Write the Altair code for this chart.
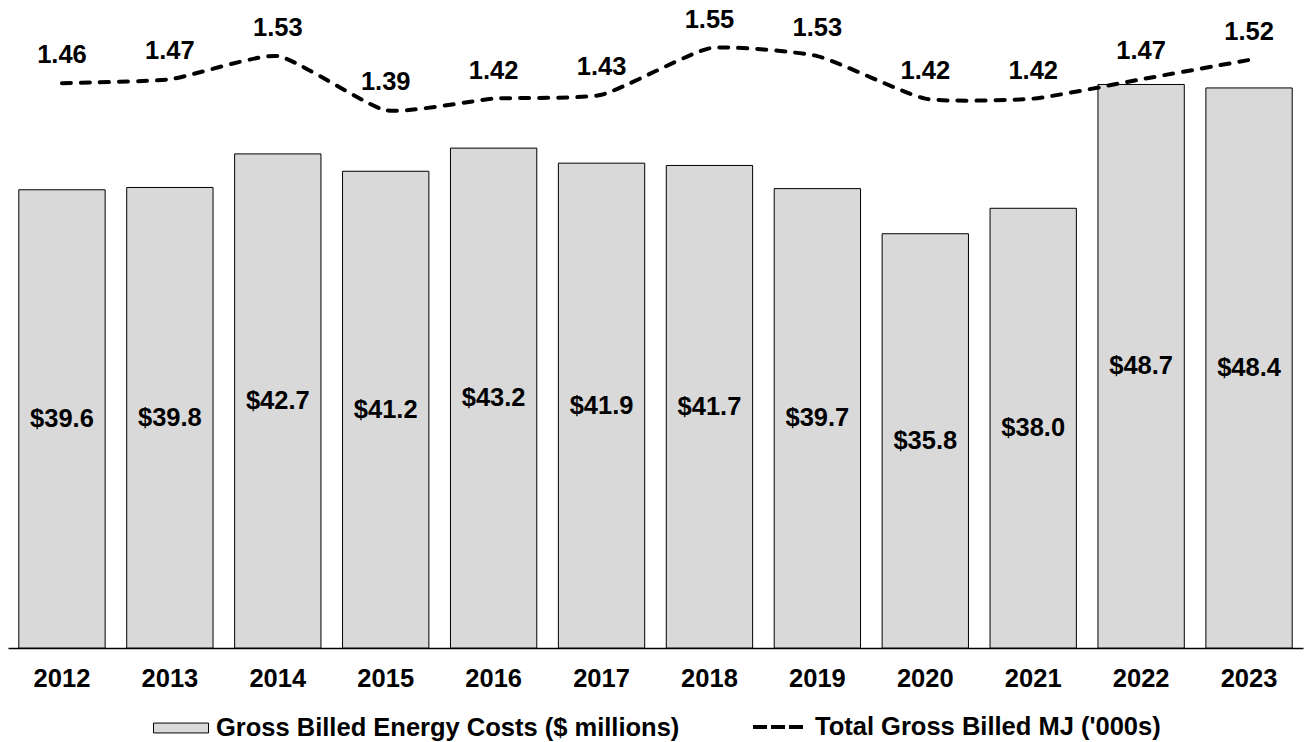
import altair as alt
import pandas as pd

# Annual figures
years = ["2012", "2013", "2014", "2015", "2016", "2017",
         "2018", "2019", "2020", "2021", "2022", "2023"]
costs = [39.6, 39.8, 42.7, 41.2, 43.2, 41.9, 41.7, 39.7, 35.8, 38.0, 48.7, 48.4]
mj = [1.46, 1.47, 1.53, 1.39, 1.42, 1.43, 1.55, 1.53, 1.42, 1.42, 1.47, 1.52]

BAR_NAME = "Gross Billed Energy Costs ($ millions)"
LINE_NAME = "Total Gross Billed MJ ('000s)"
FONT = "Liberation Sans"
SIZE = 25.5

# Legend glyphs drawn in the unit square: a flat box, and three short dashes
BOX_GLYPH = "M-1,-0.18H1V0.18H-1Z"
DASH_GLYPH = ("M-1,-0.08H-0.44V0.08H-1Z "
              "M-0.28,-0.08H0.28V0.08H-0.28Z "
              "M0.44,-0.08H1V0.08H0.44Z")

df = pd.DataFrame({"year": years, "cost": costs, "mj": mj})
df["bar_series"] = BAR_NAME
df["line_series"] = LINE_NAME

x_enc = alt.X(
    "year:N", sort=None, title=None,
    scale=alt.Scale(paddingInner=0.2, paddingOuter=0.1),
    axis=alt.Axis(labelAngle=0, ticks=False, domainColor="black", domainWidth=1.5,
                  labelFontSize=SIZE, labelFontWeight="bold", labelColor="black",
                  labelFont=FONT, labelPadding=18, grid=False),
)

cost_scale = alt.Scale(domain=[0, 56], nice=False, zero=True)
mj_scale = alt.Scale(domain=[0, 1.675], nice=False, zero=True)

base = alt.Chart(df)

bars = base.mark_bar(stroke="black", strokeWidth=1).encode(
    x=x_enc,
    y=alt.Y("cost:Q", scale=cost_scale, axis=None),
    fill=alt.Fill(
        "bar_series:N",
        scale=alt.Scale(domain=[BAR_NAME], range=["#d9d9d9"]),
        legend=alt.Legend(
            title=None, orient="none", legendX=145, legendY=700, padding=0,
            symbolType=BOX_GLYPH, symbolSize=3025,
            symbolStrokeColor="black", symbolStrokeWidth=1, symbolOpacity=1,
            labelFont=FONT, labelFontSize=SIZE, labelFontWeight="bold",
            labelColor="black", labelOffset=7, labelLimit=0,
        ),
    ),
)

bar_text = base.transform_calculate(
    half="datum.cost / 2",
    label="'$' + format(datum.cost, '.1f')",
).mark_text(font=FONT, fontSize=SIZE, fontWeight="bold", color="black",
            baseline="middle").encode(
    x=x_enc,
    y=alt.Y("half:Q", scale=cost_scale, axis=None),
    text="label:N",
)

line = base.mark_line(color="black", strokeWidth=4, interpolate="cardinal",
                      tension=0.5, strokeCap="round").encode(
    x=x_enc,
    y=alt.Y("mj:Q", scale=mj_scale, axis=None),
    strokeDash=alt.StrokeDash(
        "line_series:N",
        scale=alt.Scale(domain=[LINE_NAME], range=[[9, 10]]),
        legend=alt.Legend(
            title=None, orient="none", legendX=745, legendY=702, padding=0,
            symbolType=DASH_GLYPH, symbolSize=2500, symbolStrokeWidth=0,
            symbolFillColor="black", symbolStrokeColor="black", symbolOpacity=1,
            labelFont=FONT, labelFontSize=SIZE, labelFontWeight="bold",
            labelColor="black", labelOffset=12, labelLimit=0,
        ),
    ),
)

line_text = base.transform_calculate(
    label="format(datum.mj, '.2f')",
).mark_text(font=FONT, fontSize=SIZE, fontWeight="bold", color="black",
            baseline="middle", dy=-28).encode(
    x=x_enc,
    y=alt.Y("mj:Q", scale=mj_scale, axis=None),
    text="label:N",
)

chart = (
    alt.layer(bars, bar_text, line, line_text)
    .resolve_scale(y="independent")
    .properties(
        width=1295, height=648,
        padding={"left": 8, "top": 0, "right": 5, "bottom": 94},
        autosize=alt.AutoSizeParams(type="none"),
        background="white",
    )
    .configure_view(stroke=None)
)

chart.save("out.html", embed_options={"renderer": "svg", "actions": False})
